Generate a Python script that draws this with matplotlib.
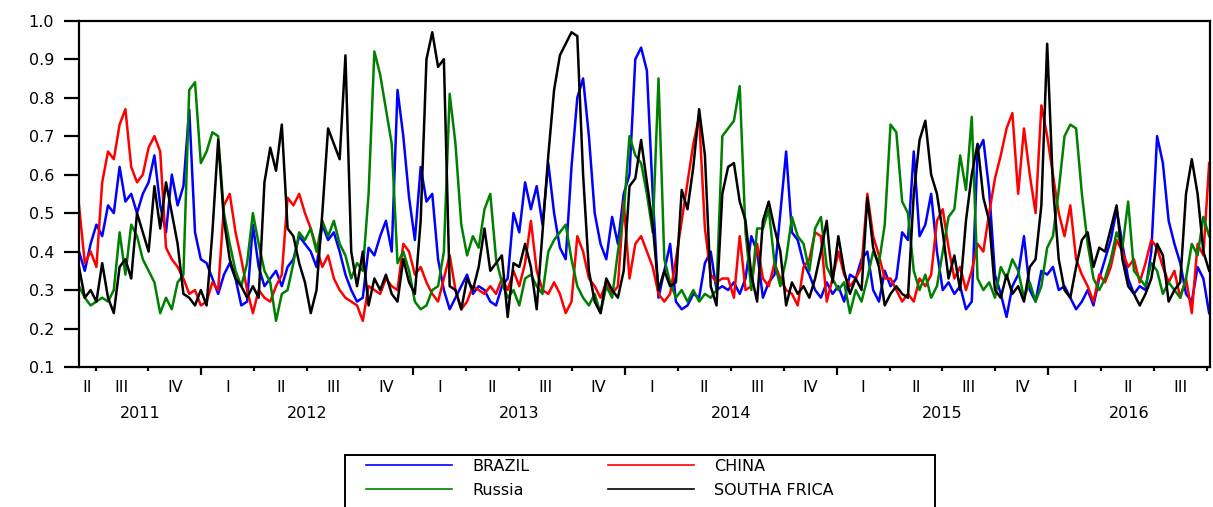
import numpy as np
import pandas as pd
import matplotlib
matplotlib.use("Agg")
import matplotlib.pyplot as plt
from matplotlib.lines import Line2D
from matplotlib.patches import Rectangle

# ---------------- data (~10-day sampling) ----------------
start_date = "2011-06-04"
step = "10D"

brazil = [0.40, 0.35, 0.42, 0.47, 0.44, 0.52, 0.50, 0.62, 0.53, 0.55, 0.50, 0.55, 0.58, 0.65, 0.52,
          0.45, 0.60, 0.52, 0.57, 0.77, 0.45, 0.38, 0.37, 0.33, 0.29, 0.34, 0.37, 0.33, 0.26,
          0.27, 0.47, 0.36, 0.31, 0.33, 0.35, 0.31, 0.36, 0.38, 0.44, 0.42, 0.40, 0.36, 0.47,
          0.43, 0.45, 0.40, 0.34, 0.30, 0.27, 0.28, 0.41, 0.39, 0.44, 0.48, 0.40, 0.82, 0.70,
          0.54, 0.43, 0.62, 0.53, 0.55, 0.38, 0.30, 0.25, 0.28, 0.31, 0.34, 0.29, 0.31, 0.30,
          0.27, 0.26, 0.31, 0.33, 0.50, 0.45, 0.58, 0.51, 0.57, 0.47, 0.63, 0.50, 0.41, 0.38,
          0.62, 0.80, 0.85, 0.70, 0.50, 0.42, 0.38, 0.49, 0.42, 0.55, 0.60, 0.90, 0.93, 0.87,
          0.55, 0.28, 0.35, 0.42, 0.27, 0.25, 0.26, 0.29, 0.28, 0.37, 0.40, 0.30, 0.31,
          0.30, 0.32, 0.29, 0.33, 0.44, 0.40, 0.28, 0.32, 0.34, 0.50, 0.66, 0.45, 0.43, 0.37,
          0.34, 0.30, 0.28, 0.32, 0.29, 0.31, 0.27, 0.34, 0.33, 0.38, 0.40, 0.30, 0.27, 0.35,
          0.31, 0.33, 0.45, 0.43, 0.66, 0.44, 0.47, 0.55, 0.40, 0.30, 0.32, 0.29, 0.31, 0.25,
          0.27, 0.66, 0.69, 0.56, 0.34, 0.29, 0.23, 0.31, 0.34, 0.44, 0.30, 0.27, 0.35,
          0.34, 0.36, 0.30, 0.31, 0.28, 0.25, 0.27, 0.30, 0.26, 0.33, 0.38, 0.43, 0.51, 0.42,
          0.33, 0.29, 0.31, 0.30, 0.40, 0.70, 0.63, 0.48, 0.42, 0.37, 0.29, 0.27, 0.36, 0.33, 0.24]

china = [0.52, 0.37, 0.40, 0.36, 0.58, 0.66, 0.64, 0.73, 0.77, 0.62, 0.58, 0.60, 0.67, 0.70, 0.66,
         0.41, 0.38, 0.36, 0.33, 0.29, 0.30, 0.26, 0.27, 0.32, 0.30, 0.52, 0.55, 0.45, 0.38,
         0.30, 0.24, 0.30, 0.28, 0.27, 0.31, 0.34, 0.54, 0.52, 0.55, 0.50, 0.46, 0.41, 0.36,
         0.39, 0.33, 0.30, 0.28, 0.27, 0.26, 0.22, 0.31, 0.30, 0.29, 0.33, 0.31, 0.30, 0.42,
         0.40, 0.34, 0.36, 0.32, 0.29, 0.27, 0.33, 0.39, 0.30, 0.25, 0.27, 0.31, 0.30, 0.29,
         0.31, 0.29, 0.33, 0.30, 0.35, 0.31, 0.37, 0.48, 0.35, 0.30, 0.29, 0.32, 0.29, 0.24,
         0.27, 0.44, 0.40, 0.33, 0.31, 0.28, 0.32, 0.29, 0.31, 0.53, 0.33, 0.42, 0.44, 0.40,
         0.36, 0.29, 0.27, 0.29, 0.38, 0.48, 0.58, 0.68, 0.75, 0.46, 0.34, 0.32, 0.33,
         0.33, 0.28, 0.44, 0.30, 0.31, 0.42, 0.33, 0.31, 0.37, 0.33, 0.30, 0.29, 0.26, 0.36,
         0.38, 0.45, 0.44, 0.27, 0.33, 0.40, 0.34, 0.31, 0.33, 0.36, 0.55, 0.44, 0.39, 0.33,
         0.33, 0.30, 0.27, 0.29, 0.27, 0.33, 0.31, 0.34, 0.48, 0.51, 0.41, 0.33, 0.36, 0.30,
         0.35, 0.42, 0.40, 0.50, 0.59, 0.65, 0.72, 0.76, 0.55, 0.72, 0.60, 0.50, 0.78,
         0.70, 0.60, 0.50, 0.44, 0.52, 0.38, 0.34, 0.31, 0.27, 0.34, 0.32, 0.36, 0.43, 0.40,
         0.36, 0.38, 0.32, 0.37, 0.43, 0.41, 0.36, 0.32, 0.35, 0.28, 0.33, 0.24, 0.42, 0.39, 0.63]

russia = [0.31, 0.28, 0.26, 0.27, 0.28, 0.27, 0.30, 0.45, 0.34, 0.47, 0.44, 0.38, 0.35, 0.32, 0.24,
          0.28, 0.25, 0.32, 0.34, 0.82, 0.84, 0.63, 0.66, 0.71, 0.70, 0.50, 0.42, 0.35, 0.31,
          0.37, 0.50, 0.42, 0.35, 0.32, 0.22, 0.29, 0.30, 0.37, 0.45, 0.43, 0.46, 0.40, 0.48,
          0.44, 0.48, 0.42, 0.39, 0.33, 0.37, 0.35, 0.55, 0.92, 0.86, 0.77, 0.68, 0.37, 0.40,
          0.35, 0.27, 0.25, 0.26, 0.30, 0.31, 0.40, 0.81, 0.68, 0.47, 0.39, 0.44, 0.41, 0.51,
          0.55, 0.38, 0.32, 0.28, 0.30, 0.26, 0.33, 0.34, 0.31, 0.29, 0.40, 0.43, 0.45, 0.47,
          0.38, 0.31, 0.28, 0.26, 0.29, 0.24, 0.31, 0.28, 0.40, 0.50, 0.70, 0.65, 0.63, 0.55,
          0.45, 0.85, 0.38, 0.32, 0.28, 0.30, 0.27, 0.30, 0.27, 0.29, 0.28, 0.30, 0.70,
          0.72, 0.74, 0.83, 0.45, 0.30, 0.46, 0.46, 0.51, 0.37, 0.31, 0.38, 0.49, 0.44, 0.42,
          0.35, 0.46, 0.49, 0.36, 0.33, 0.30, 0.32, 0.24, 0.30, 0.27, 0.33, 0.40, 0.37, 0.47,
          0.73, 0.71, 0.53, 0.50, 0.35, 0.30, 0.34, 0.28, 0.31, 0.40, 0.49, 0.51, 0.65, 0.56,
          0.75, 0.33, 0.30, 0.32, 0.28, 0.36, 0.33, 0.38, 0.35, 0.28, 0.32, 0.27, 0.31,
          0.41, 0.44, 0.56, 0.70, 0.73, 0.72, 0.55, 0.42, 0.33, 0.30, 0.33, 0.38, 0.45, 0.41,
          0.53, 0.35, 0.33, 0.31, 0.37, 0.35, 0.29, 0.32, 0.30, 0.28, 0.33, 0.42, 0.39, 0.49, 0.44]

south_africa = [0.36, 0.28, 0.30, 0.27, 0.37, 0.28, 0.24, 0.36, 0.38, 0.33, 0.50, 0.45, 0.40, 0.57, 0.46,
                0.58, 0.50, 0.42, 0.29, 0.28, 0.26, 0.30, 0.26, 0.45, 0.69, 0.48, 0.38, 0.33, 0.31,
                0.28, 0.31, 0.28, 0.58, 0.67, 0.61, 0.73, 0.46, 0.44, 0.37, 0.32, 0.24, 0.30, 0.50,
                0.72, 0.68, 0.64, 0.91, 0.40, 0.31, 0.40, 0.26, 0.33, 0.30, 0.34, 0.29, 0.27, 0.38,
                0.32, 0.29, 0.48, 0.90, 0.97, 0.88, 0.90, 0.31, 0.30, 0.25, 0.33, 0.30, 0.36, 0.46,
                0.35, 0.37, 0.39, 0.23, 0.37, 0.36, 0.42, 0.36, 0.25, 0.45, 0.65, 0.82, 0.91, 0.94,
                0.97, 0.96, 0.60, 0.35, 0.27, 0.24, 0.33, 0.30, 0.28, 0.35, 0.57, 0.59, 0.69, 0.58,
                0.47, 0.30, 0.35, 0.31, 0.32, 0.56, 0.51, 0.62, 0.77, 0.65, 0.31, 0.26, 0.55,
                0.62, 0.63, 0.53, 0.48, 0.34, 0.27, 0.48, 0.53, 0.46, 0.40, 0.26, 0.32, 0.29, 0.31,
                0.28, 0.33, 0.40, 0.48, 0.32, 0.44, 0.35, 0.29, 0.33, 0.30, 0.54, 0.41, 0.36, 0.26,
                0.29, 0.31, 0.29, 0.28, 0.55, 0.69, 0.74, 0.60, 0.55, 0.45, 0.33, 0.39, 0.30, 0.48,
                0.60, 0.68, 0.54, 0.48, 0.30, 0.28, 0.34, 0.29, 0.31, 0.27, 0.36, 0.38, 0.52,
                0.94, 0.57, 0.38, 0.30, 0.28, 0.36, 0.43, 0.45, 0.36, 0.41, 0.40, 0.46, 0.52, 0.38,
                0.31, 0.29, 0.26, 0.29, 0.33, 0.42, 0.39, 0.27, 0.30, 0.32, 0.55, 0.64, 0.55, 0.40, 0.35]

series_names = ["BRAZIL", "CHINA", "Russia", "SOUTHA FRICA"]
series_colors = ["#0000FF", "#FF0000", "#008000", "#000000"]
quarter_names = ["I", "II", "III", "IV"]
years = [2011, 2012, 2013, 2014, 2015, 2016]
y_ticks = [0.1, 0.2, 0.3, 0.4, 0.5, 0.6, 0.7, 0.8, 0.9, 1.0]

# ---------------- build ----------------
n_obs = len(brazil)
dates = pd.date_range(start_date, periods=n_obs, freq=step)
ndays = np.where(dates.is_leap_year, 366, 365)
x = np.asarray(dates.year + (dates.dayofyear - 1) / ndays, dtype=float)
xmin, xmax = x[0], x[-1] + 0.004

plt.rcParams["font.family"] = ["DejaVu Sans"]
W, H = 1213, 507
fig = plt.figure(figsize=(W / 100, H / 100), dpi=100)
left, right, top, bottom = 79, 1210, 20.7, 367
ax = fig.add_axes([left / W, 1 - bottom / H, (right - left) / W, (bottom - top) / H])

all_series = [brazil, china, russia, south_africa]
for vals, col in zip(all_series, series_colors):
    ax.plot(x, vals, color=col, lw=1.8)

ax.set_xlim(xmin, xmax)
ax.set_ylim(0.1, 1.0)
ax.set_yticks(y_ticks)
ax.set_yticklabels([f"{v:.1f}" for v in y_ticks])
ax.tick_params(axis="y", direction="out", length=11, width=1.6, pad=7, labelsize=11.5)

for s in ax.spines.values():
    s.set_linewidth(1.6)

year_bounds = [y for y in range(2011, 2018) if xmin <= y <= xmax]
quarter_bounds = [y + q / 4 for y in range(2011, 2017) for q in (1, 2, 3)
                  if xmin <= y + q / 4 <= xmax]
ax.set_xticks(year_bounds)
ax.set_xticks(quarter_bounds, minor=True)
ax.tick_params(axis="x", which="major", direction="out", length=6, width=1.6, labelbottom=False)
ax.tick_params(axis="x", which="minor", direction="out", length=3, width=1.6, labelbottom=False)

trans = ax.get_xaxis_transform()
ax_h = bottom - top
for yr in years:
    for qi, qn in enumerate(quarter_names):
        s0, s1 = yr + qi / 4, yr + (qi + 1) / 4
        v0, v1 = max(s0, xmin), min(s1, xmax)
        if (v1 - v0) < 0.06:
            continue
        ax.text((v0 + v1) / 2, -(387 - bottom) / ax_h, qn, transform=trans,
                ha="center", va="center", fontsize=11.5)
    v0, v1 = max(yr, xmin), min(yr + 1, xmax)
    ax.text((v0 + v1) / 2, -(414 - bottom) / ax_h, str(yr), transform=trans,
            ha="center", va="center", fontsize=11.5)

# legend box (extends past the bottom edge, as in the reference)
fig.add_artist(Rectangle((345 / W, 1 - 540 / H), 590 / W, 85 / H, transform=fig.transFigure,
                         facecolor="white", edgecolor="black", lw=1.4, clip_on=False))

handles = [Line2D([], [], color=c, lw=1.2) for c in series_colors]
order = [0, 2, 1, 3]
leg = fig.legend([handles[i] for i in order], [series_names[i] for i in order],
                 ncol=2, loc="upper left",
                 bbox_to_anchor=(366 / W, 1 - 459 / H),
                 fontsize=11.5, handlelength=5.4, handletextpad=1.25,
                 columnspacing=4.9, borderpad=0, borderaxespad=0,
                 labelspacing=0.55, frameon=False)

fig.savefig("out.png", dpi=100)
